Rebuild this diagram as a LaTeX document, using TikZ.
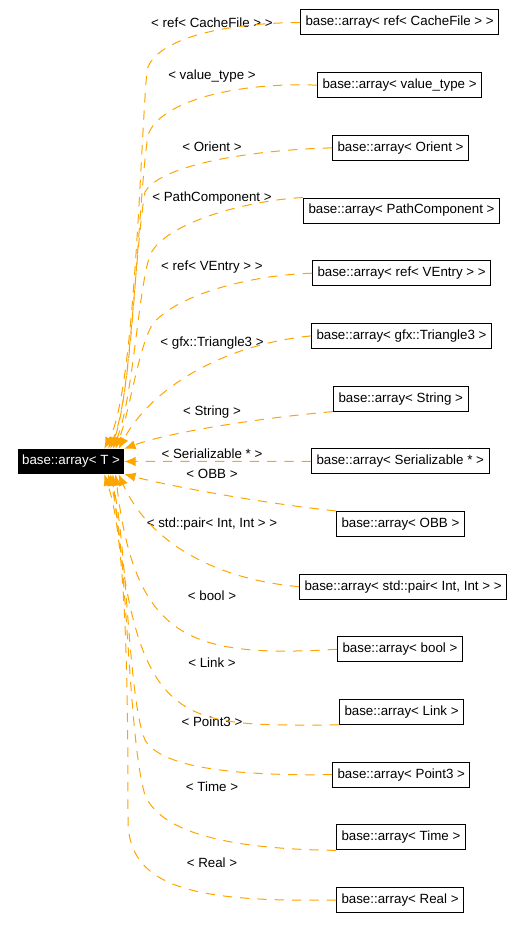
\documentclass[tikz,border=0pt]{standalone}
\usepackage{fontspec}
\setmainfont{Liberation Sans}
\usetikzlibrary{arrows.meta}
\definecolor{inherit}{HTML}{FFA500}
\tikzset{>={Latex[length=8.5pt,width=7pt]}}
\tikzset{
    cls/.style={draw, line width=0.75pt, anchor=west, minimum height=18.75pt,
        inner xsep=3.75pt, inner ysep=0pt, font=\fontsize{10}{12}\selectfont},
    rootbox/.style={fill=black, text=white, minimum height=18.75pt, inner xsep=3pt,
        inner ysep=0pt, font=\fontsize{10}{12}\selectfont},
    lbl/.style={inner sep=0pt, font=\fontsize{10}{12}\selectfont},
    dep/.style={->, draw=inherit, line width=0.75pt, dash pattern=on 7pt off 6pt}
}

\begin{document}
\begin{tikzpicture}[x=0.75pt, y=-0.75pt]
    \useasboundingbox (0,0) rectangle (520,930);

    \node[rootbox] (base) at (71,461.5) {base::array< T >};

    % derived classes, one row each
    \foreach \n/\x/\t [count=\i from 0] in {
        cachefile/300/{ref< CacheFile > >},
        valuetype/317/{value\_type >},
        orient/332/{Orient >},
        pathcomp/303/{PathComponent >},
        ventry/312/{ref< VEntry > >},
        triangle/311/{gfx::Triangle3 >},
        string/333/{String >},
        serial/311/{Serializable * >},
        obb/336/{OBB >},
        pair/299/{std::pair< Int, Int > >},
        bool/337/{bool >},
        link/339/{Link >},
        point/332/{Point3 >},
        time/336/{Time >},
        real/336/{Real >}}
        \node[cls] (\n) at (\x,{22.5+62.68*\i}) {base::array< \t};

    \foreach \n/\y/\t in {
        cachefile/23/{ref< CacheFile > >},
        valuetype/76/{value\_type >},
        orient/147/{Orient >},
        pathcomp/198/{PathComponent >},
        ventry/267/{ref< VEntry > >},
        triangle/343/{gfx::Triangle3 >},
        string/412/{String >},
        serial/454/{Serializable * >},
        obb/474/{OBB >},
        pair/524/{std::pair< Int, Int > >},
        bool/596/{bool >},
        link/663/{Link >},
        point/722/{Point3 >},
        time/787/{Time >},
        real/863/{Real >}}
        \node[lbl] (l\n) at (212,\y) {< \t};

    \draw[dep] (cachefile.west) .. controls (220,23) and (155,40) .. (147,70)
        .. controls (140,150) and (135,390) .. (base.21);
    \draw[dep] (valuetype.west) .. controls (240,82) and (160,100) .. (148,135)
        .. controls (138,200) and (133,400) .. (base.19);
    \draw[dep] (orient.west) .. controls (250,150) and (160,165) .. (145,192)
        .. controls (135,250) and (130,400) .. (base.18);
    \draw[dep] (pathcomp.north west) .. controls (250,200) and (165,222) .. (150,255)
        .. controls (138,290) and (133,400) .. (base.17);
    \draw[dep] (ventry.west) .. controls (250,275) and (175,295) .. (152,325)
        .. controls (138,350) and (130,410) .. (base.16);
    \draw[dep] (triangle.west) .. controls (220,345) and (150,390) .. (base.15);
    \draw[dep] (string.south west) .. controls (260,418) and (170,432) .. (base.north east);
    \draw[dep] (serial.west) -- (base.east);
    \draw[dep] (obb.north west) .. controls (260,503) and (170,486) .. (base.south east);
    \draw[dep] (pair.west) .. controls (220,580) and (150,545) .. (base.-15);
    \draw[dep] (bool.west) .. controls (190,658) and (135,640) .. (base.-16);
    \draw[dep] (link.south west) .. controls (180,725) and (135,735) .. (base.-17);
    \draw[dep] (point.west) .. controls (220,776) and (160,765) .. (145,740)
        .. controls (128,700) and (127,540) .. (base.-18);
    \draw[dep] (time.south west) .. controls (220,849) and (160,830) .. (145,795)
        .. controls (128,740) and (127,540) .. (base.-19);
    \draw[dep] (real.west) .. controls (200,902) and (128,890) .. (128,820)
        .. controls (128,700) and (127,540) .. (base.-21);
\end{tikzpicture}
\end{document}
